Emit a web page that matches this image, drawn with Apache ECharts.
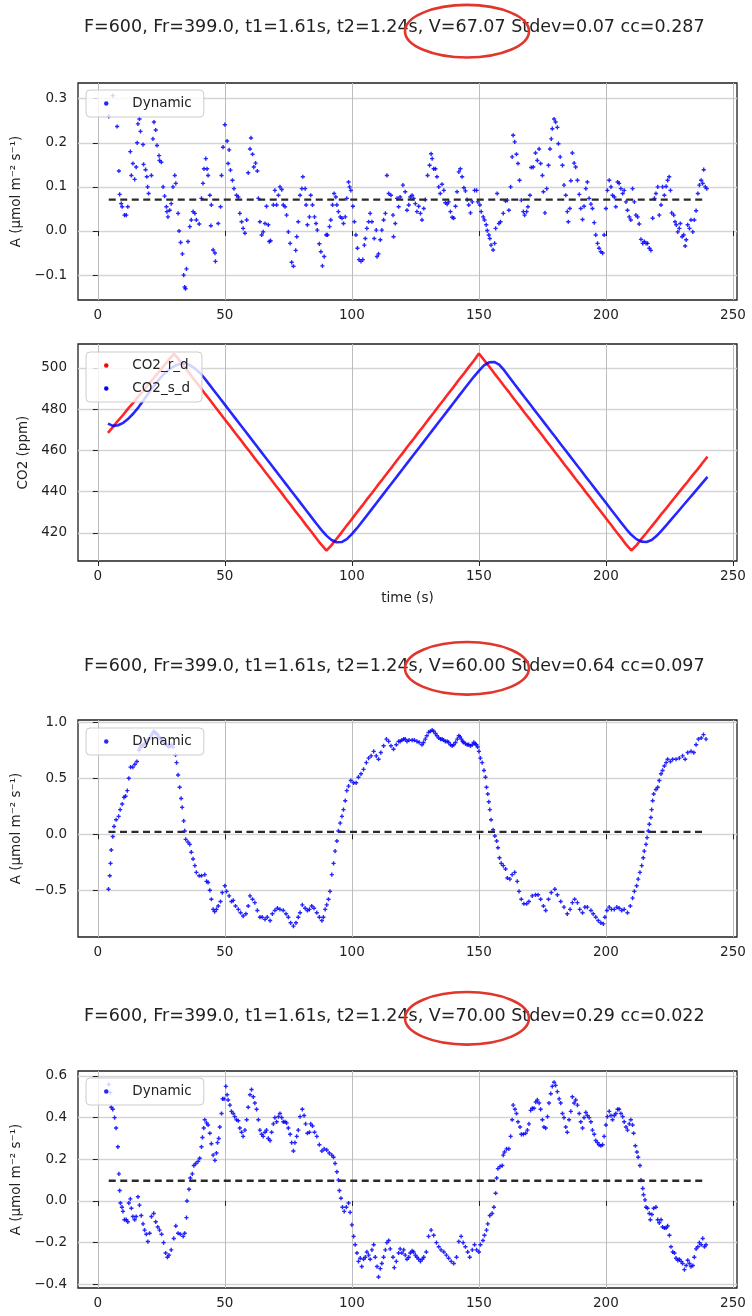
<!DOCTYPE html>
<html>
<head>
<meta charset="utf-8">
<title>Dynamic A and CO2</title>
<script src="https://cdn.jsdelivr.net/npm/echarts@6.0.0/dist/echarts.min.js"></script>
<style>
html,body{margin:0;padding:0;background:#ffffff;}
#chart{width:752px;height:1316px;}
</style>
</head>
<body>
<div id="chart"></div>
<script>
// ---------- texts ----------
const panelTitles = [
  'F=600, Fr=399.0, t1=1.61s, t2=1.24s, V=67.07 Stdev=0.07 cc=0.287',
  'F=600, Fr=399.0, t1=1.61s, t2=1.24s, V=60.00 Stdev=0.64 cc=0.097',
  'F=600, Fr=399.0, t1=1.61s, t2=1.24s, V=70.00 Stdev=0.29 cc=0.022'
];
const yNameA = 'A (\u00b5mol m\u207b\u00b2 s\u207b\u00b9)';
const yNameCO2 = 'CO2 (ppm)';
const xNameTime = 'time (s)';
const legendA = 'Dynamic';
const legendCO2 = ['CO2_r_d', 'CO2_s_d'];

// ---------- ticks ----------
const xTicks = [0, 50, 100, 150, 200, 250];
const y1Ticks = [-0.1, 0, 0.1, 0.2, 0.3];
const y2Ticks = [420, 440, 460, 480, 500];
const y3Ticks = [-0.5, 0, 0.5, 1];
const y4Ticks = [-0.4, -0.2, 0, 0.2, 0.4, 0.6];

// ---------- dashed mean levels (panels 1, 3, 4) ----------
const meanA = [0.071, 0.021, 0.097];

// ---------- panel 1: A (V=67.07) ----------
const a1Time = [
4.3,5.9,7.6,8.3,8.6,9.2,9.6,10.5,11.2,11.8,
12.8,13.2,13.8,14.5,15.1,15.5,15.8,16.4,16.8,17.8,
18.0,18.8,19.3,19.6,20.0,21.1,21.7,22.1,22.8,23.3,
24.1,24.3,25.0,25.7,26.3,27.0,27.2,27.6,28.3,28.9,
29.6,30.3,30.7,31.6,32.0,32.6,33.3,33.8,34.2,34.5,
34.9,35.5,36.2,36.8,37.5,38.2,38.8,39.9,40.8,41.4,
41.8,42.5,43.0,43.4,44.1,44.5,44.7,45.4,46.1,46.3,
47.4,48.3,48.7,49.3,50.0,50.9,51.3,51.7,52.2,53.0,
53.6,54.6,55.3,55.9,56.6,57.2,57.9,58.6,59.2,59.9,
60.3,60.9,61.4,62.1,62.8,63.2,63.8,64.5,65.1,65.8,
66.4,67.1,67.5,68.0,69.1,69.7,70.4,71.1,71.7,72.4,
73.0,73.7,74.3,75.0,75.7,76.3,77.0,77.9,78.3,78.9,
79.6,80.3,80.7,81.6,82.0,82.5,83.3,83.8,84.5,85.3,
85.9,86.4,87.2,87.8,88.4,89.1,89.9,90.4,91.2,91.7,
92.4,93.0,93.7,94.1,94.7,95.4,96.1,96.7,97.4,98.0,
98.7,99.1,99.6,100.4,101.0,101.6,102.2,102.8,103.6,104.3,
104.9,105.3,105.9,106.6,107.2,107.9,108.8,109.6,109.9,110.5,
111.2,111.8,112.5,113.2,113.8,114.5,115.4,116.2,116.4,117.1,
117.8,118.4,119.0,120.1,121.0,121.7,122.4,123.0,123.7,124.3,
125.0,125.6,126.3,127.0,127.6,128.3,128.9,129.8,130.6,131.2,
131.6,132.2,132.9,133.5,134.2,134.8,135.5,136.2,136.8,137.5,
138.1,138.8,139.5,140.1,140.8,141.4,142.1,142.7,143.4,144.1,
144.7,145.4,146.0,146.7,147.4,148.3,149.1,149.6,150.4,150.9,
151.7,152.2,152.9,153.3,153.9,154.3,154.8,155.6,156.2,156.6,
157.2,157.9,158.5,159.6,160.5,161.2,161.8,162.5,163.1,163.5,
164.1,164.8,165.4,166.0,166.7,167.5,168.0,168.8,169.3,170.1,
170.6,171.4,172.3,173.0,173.7,174.3,175.0,175.4,176.0,176.7,
177.4,178.0,178.5,178.9,179.6,180.2,180.9,181.3,182.0,182.9,
183.5,184.2,184.8,185.2,185.8,186.2,186.8,187.5,188.1,188.8,
189.5,190.1,190.8,191.4,192.1,192.7,193.4,194.1,194.7,195.4,
196.0,196.7,197.3,198.0,198.7,199.3,200.0,200.6,201.3,202.0,
202.6,203.3,203.9,204.6,205.2,205.9,206.6,207.2,207.9,208.5,
209.2,209.8,210.5,211.2,211.8,212.5,213.1,213.8,214.5,215.1,
215.8,216.4,217.1,217.7,218.4,219.1,219.7,220.4,221.0,221.7,
222.3,223.0,223.7,224.3,224.9,225.4,225.9,226.7,227.2,227.7,
228.3,228.9,229.3,230.0,230.6,231.2,231.6,232.2,232.9,233.5,
234.2,234.8,235.5,236.2,236.8,237.5,238.1,238.5,239.1,239.7
];
const a1Val = [
0.26,0.307,0.237,0.136,0.083,0.062,0.055,0.036,0.036,0.055,
0.18,0.126,0.153,0.117,0.145,0.2,0.243,0.254,0.226,0.196,
0.151,0.139,0.123,0.10,0.085,0.126,0.209,0.247,0.229,0.194,
0.171,0.16,0.156,0.10,0.079,0.055,0.044,0.032,0.047,0.062,
0.10,0.126,0.108,0.04,0.0,-0.026,-0.052,-0.10,-0.127,-0.131,
-0.086,-0.024,0.01,0.025,0.044,0.04,0.025,0.016,0.074,0.108,
0.141,0.164,0.141,0.126,0.081,0.012,0.059,-0.043,-0.05,-0.069,
0.017,0.055,0.126,0.19,0.241,0.204,0.153,0.184,0.138,0.115,
0.096,0.081,0.077,0.04,0.021,0.006,-0.005,0.025,0.132,0.186,
0.211,0.174,0.145,0.154,0.136,0.074,0.021,-0.009,-0.002,0.017,
0.056,0.014,-0.024,-0.022,0.059,0.092,0.059,0.081,0.10,0.094,
0.059,0.055,0.036,-0.002,-0.028,-0.071,-0.08,-0.044,-0.013,0.021,
0.081,0.096,0.123,0.096,0.059,0.014,0.032,0.081,0.059,0.032,
0.017,0.002,-0.029,-0.047,-0.079,-0.058,-0.009,-0.009,0.01,0.025,
0.059,0.085,0.077,0.059,0.044,0.032,0.029,0.017,0.032,0.074,
0.111,0.10,0.092,0.056,0.021,-0.009,-0.039,-0.065,-0.069,-0.065,
-0.032,-0.017,0.006,0.021,0.04,0.021,-0.017,0.002,-0.058,-0.052,
-0.02,0.002,0.025,0.04,0.126,0.085,0.081,0.036,-0.013,0.017,
0.074,0.055,0.077,0.104,0.089,0.047,0.059,0.077,0.081,0.074,
0.062,0.044,0.056,0.04,0.025,0.051,0.071,0.126,0.149,0.175,
0.164,0.141,0.141,0.123,0.10,0.085,0.106,0.092,0.064,0.061,
0.066,0.044,0.031,0.029,0.056,0.089,0.134,0.141,0.123,0.098,
0.091,0.071,0.059,0.041,0.066,0.092,0.092,0.066,0.059,0.044,
0.032,0.025,0.014,0.001,-0.009,-0.017,-0.032,-0.043,-0.028,0.006,
0.085,0.017,0.021,0.04,0.068,0.07,0.047,0.10,0.168,0.217,
0.202,0.174,0.153,0.115,0.07,0.044,0.036,0.044,0.055,0.081,
0.144,0.145,0.177,0.16,0.186,0.153,0.126,0.089,0.041,0.096,
0.149,0.186,0.209,0.232,0.254,0.247,0.235,0.198,0.168,0.149,
0.104,0.081,0.044,0.021,0.051,0.114,0.177,0.154,0.145,0.115,
0.083,0.051,0.026,0.056,0.096,0.111,0.074,0.061,0.051,0.019,
-0.009,-0.028,-0.039,-0.047,-0.05,-0.009,0.051,0.092,0.115,0.10,
0.081,0.077,0.055,0.111,0.108,0.096,0.085,0.092,0.066,0.047,
0.032,0.025,0.096,0.066,0.036,0.032,0.016,-0.019,-0.028,-0.024,
-0.028,-0.028,-0.039,-0.044,0.029,0.074,0.085,0.10,0.036,0.059,
0.10,0.081,0.101,0.115,0.123,0.092,0.041,0.036,0.021,0.014,
-0.002,0.006,0.017,-0.013,-0.009,-0.034,-0.02,0.014,0.006,0.025,
-0.002,0.025,0.046,0.085,0.104,0.115,0.108,0.139,0.10,0.096
];

// ---------- panel 2: CO2 ----------
const co2Time = [
4,6,8,10,12,14,16,18,20,22,24,26,28,30,
32,34,36,38,40,42,44,46,48,50,52,54,56,58,60,62,64,66,68,70,72,74,76,78,80,82,84,86,88,90,
92,94,96,98,100,102,104,106,108,110,112,114,116,118,120,122,124,126,128,130,132,134,136,138,140,142,144,146,148,150,
152,154,156,158,160,162,164,166,168,170,172,174,176,178,180,182,184,186,188,190,192,194,196,198,200,202,204,206,208,210,
212,214,216,218,220,222,224,226,228,230,232,234,236,238,240
];
const co2R = [
468.5,471.4,474.5,477.3,480.4,483.2,486.3,489.1,492.2,495.0,498.1,501.0,504.1,506.8,
503.9,500.6,497.5,494.2,491.1,487.8,484.7,481.4,478.3,475.0,471.9,468.6,465.5,462.2,459.1,455.8,452.7,449.4,446.3,443.0,439.9,436.6,433.5,430.2,427.1,423.8,420.7,417.4,414.3,411.4,
414.1,417.2,420.3,423.6,426.7,430.0,433.1,436.4,439.5,442.8,445.9,449.2,452.3,455.6,458.7,462.0,465.1,468.4,471.5,474.8,477.9,481.2,484.3,487.6,490.7,494.0,497.1,500.4,503.5,507.0,
503.9,500.8,497.5,494.4,491.1,488.0,484.7,481.6,478.3,475.2,471.9,468.8,465.5,462.4,459.1,456.0,452.7,449.6,446.3,443.2,439.9,436.8,433.5,430.4,427.1,424.0,420.7,417.6,414.3,411.5,
414.0,417.1,420.1,423.2,426.2,429.4,432.3,435.5,438.5,441.6,444.6,447.8,450.7,453.9,457.0
];
const co2S = [
473.0,471.9,472.2,473.4,475.4,477.9,480.9,484.3,487.8,491.2,494.3,497.0,499.1,500.8,
501.9,502.3,501.6,499.9,497.8,495.0,491.8,488.6,485.4,482.2,479.0,475.8,472.6,469.4,466.2,463.0,459.8,456.6,453.4,450.2,447.0,443.8,440.6,437.4,434.2,431.0,427.8,424.6,421.5,418.7,
416.6,415.5,415.6,417.0,419.4,422.3,425.4,428.6,431.8,435.0,438.2,441.4,444.6,447.8,451.0,454.2,457.4,460.6,463.8,467.0,470.2,473.4,476.6,479.8,483.0,486.2,489.4,492.6,495.7,498.6,
501.2,502.7,502.9,501.6,498.8,495.5,492.2,489.0,485.8,482.6,479.4,476.2,473.0,469.8,466.6,463.4,460.2,457.0,453.8,450.6,447.4,444.2,441.0,437.8,434.6,431.4,428.2,425.0,421.9,419.1,
417.0,415.8,415.6,416.6,418.6,421.2,424.0,426.9,429.8,432.7,435.6,438.5,441.4,444.3,447.2
];

// ---------- panel 3: A (V=60.00) ----------
const a3Time = [
4.2,4.7,5.0,5.3,5.9,6.4,7.2,8.2,8.8,9.6,
10.3,10.9,11.6,12.2,12.9,13.8,14.6,15.4,16.2,16.6,
17.0,17.5,18.0,18.5,19.0,19.5,20.0,20.5,21.0,21.5,
22.0,22.5,23.0,23.5,24.0,24.5,25.0,25.5,26.0,26.5,
27.0,27.5,28.0,28.5,29.0,29.6,30.6,31.0,31.6,32.2,
32.8,33.2,33.8,34.2,34.6,35.5,36.2,36.8,37.5,38.2,
38.8,39.9,40.8,42.1,42.8,43.4,44.1,44.7,45.4,46.0,
46.7,47.4,48.3,49.0,50.0,50.7,51.7,52.6,53.3,54.2,
55.3,56.2,57.2,58.3,59.2,59.9,60.9,61.8,62.8,63.8,
64.7,65.8,66.7,67.8,68.7,69.7,70.7,71.7,73.0,74.1,
75.0,75.9,77.0,78.0,78.9,79.6,80.5,81.6,82.5,83.3,
84.2,85.1,86.2,87.2,88.2,88.8,89.5,90.1,90.8,91.4,
92.1,92.8,93.4,94.1,94.7,95.4,96.1,96.7,97.4,98.0,
98.7,99.6,100.7,101.7,102.6,103.6,104.6,105.7,106.6,107.6,
108.6,109.6,110.5,111.4,112.5,113.6,114.5,115.4,116.4,117.5,
118.4,119.0,119.7,120.4,121.0,121.7,122.5,123.7,124.6,125.6,
126.5,127.6,128.2,128.9,129.5,130.2,130.9,131.6,132.2,132.9,
133.5,134.2,134.9,135.5,136.1,136.8,137.5,138.1,138.8,139.5,
140.1,140.8,141.5,142.1,142.6,143.1,143.6,144.0,144.7,145.4,
146.0,146.7,147.4,148.0,148.5,149.0,149.5,150.0,150.6,151.3,
152.0,152.6,153.0,153.5,153.9,154.3,154.8,155.6,156.3,157.0,
157.5,158.1,158.8,159.6,160.5,161.2,162.2,163.1,164.1,165.1,
165.8,166.7,167.7,168.8,169.7,171.0,172.3,173.3,174.3,175.4,
176.3,177.4,178.5,179.9,180.9,182.2,183.5,184.8,185.9,186.8,
187.7,188.8,189.7,190.8,191.7,192.7,194.1,195.0,196.0,197.0,
198.0,199.0,199.6,200.4,201.3,202.2,203.3,204.3,205.2,206.2,
207.2,208.5,209.6,210.5,211.2,212.1,212.7,213.4,214.1,214.7,
215.1,215.8,216.2,216.7,217.1,217.7,218.0,218.4,218.8,219.7,
220.4,221.0,221.7,222.3,223.0,223.7,224.3,225.4,226.3,227.6,
228.9,230.2,231.2,232.2,233.5,234.6,235.5,236.4,237.5,238.4,
239.4
];
const a3Val = [
-0.49,-0.37,-0.26,-0.14,-0.02,0.07,0.13,0.16,0.22,0.27,
0.33,0.34,0.39,0.50,0.60,0.60,0.625,0.65,0.75,0.77,
0.79,0.79,0.80,0.81,0.83,0.84,0.85,0.86,0.88,0.90,
0.92,0.91,0.90,0.89,0.87,0.86,0.85,0.84,0.82,0.81,
0.80,0.79,0.78,0.79,0.80,0.78,0.71,0.64,0.53,0.42,
0.32,0.24,0.12,0.03,-0.045,-0.07,-0.09,-0.16,-0.22,-0.28,
-0.34,-0.37,-0.37,-0.36,-0.42,-0.43,-0.50,-0.58,-0.67,-0.69,
-0.67,-0.64,-0.60,-0.52,-0.46,-0.51,-0.55,-0.60,-0.59,-0.64,
-0.67,-0.70,-0.73,-0.71,-0.64,-0.55,-0.58,-0.61,-0.68,-0.74,
-0.74,-0.76,-0.74,-0.77,-0.71,-0.68,-0.66,-0.67,-0.68,-0.71,
-0.74,-0.79,-0.82,-0.79,-0.74,-0.70,-0.63,-0.66,-0.68,-0.67,
-0.64,-0.66,-0.70,-0.74,-0.77,-0.74,-0.67,-0.63,-0.58,-0.51,
-0.36,-0.26,-0.15,-0.06,0.03,0.10,0.16,0.22,0.30,0.39,
0.43,0.48,0.46,0.46,0.51,0.54,0.58,0.64,0.68,0.70,
0.74,0.70,0.67,0.73,0.79,0.85,0.83,0.79,0.76,0.80,
0.83,0.83,0.84,0.85,0.85,0.83,0.84,0.84,0.84,0.83,
0.82,0.80,0.82,0.85,0.88,0.91,0.92,0.93,0.92,0.90,
0.88,0.86,0.85,0.85,0.84,0.83,0.83,0.82,0.80,0.79,
0.80,0.82,0.85,0.88,0.87,0.85,0.83,0.82,0.81,0.80,
0.80,0.79,0.80,0.82,0.81,0.80,0.78,0.74,0.68,0.64,
0.57,0.51,0.42,0.36,0.29,0.22,0.13,0.04,-0.015,-0.06,
-0.12,-0.21,-0.26,-0.28,-0.31,-0.39,-0.40,-0.36,-0.34,-0.42,
-0.51,-0.58,-0.62,-0.62,-0.60,-0.55,-0.54,-0.54,-0.58,-0.64,
-0.68,-0.58,-0.52,-0.49,-0.54,-0.60,-0.65,-0.71,-0.67,-0.61,
-0.58,-0.61,-0.67,-0.70,-0.65,-0.65,-0.68,-0.71,-0.74,-0.77,
-0.79,-0.80,-0.74,-0.68,-0.65,-0.67,-0.67,-0.65,-0.66,-0.68,
-0.67,-0.70,-0.64,-0.57,-0.51,-0.46,-0.40,-0.34,-0.28,-0.21,
-0.15,-0.09,-0.03,0.03,0.09,0.15,0.22,0.30,0.36,0.40,
0.42,0.48,0.54,0.57,0.61,0.64,0.67,0.65,0.67,0.67,
0.68,0.70,0.67,0.73,0.74,0.73,0.80,0.85,0.86,0.89,
0.85
];

// ---------- panel 4: A (V=70.00) ----------
const a4Time = [
4.3,4.9,5.3,5.9,6.6,7.2,7.9,8.3,8.6,8.9,
9.5,9.9,10.5,11.2,11.8,12.2,12.8,13.2,13.8,14.5,
15.1,15.8,16.4,17.1,17.8,18.4,19.1,19.7,20.4,21.1,
22.0,22.8,23.6,24.3,25.1,25.9,26.7,27.4,28.0,28.9,
29.9,30.7,31.6,32.5,33.6,34.2,34.9,35.1,35.9,36.4,
37.2,37.8,38.6,39.5,40.1,40.8,41.2,41.7,42.1,42.8,
43.4,44.1,44.7,45.4,46.1,46.7,47.1,47.6,48.0,48.7,
49.1,49.7,50.4,50.9,51.3,52.0,52.6,53.3,53.9,54.6,
55.3,55.9,56.6,57.2,57.9,58.6,59.2,59.9,60.5,61.2,
61.8,62.5,63.2,63.8,64.5,65.1,65.8,66.4,67.1,67.8,
68.4,69.1,69.7,70.4,71.1,71.7,72.4,73.0,73.7,74.3,
75.0,75.7,76.3,77.0,77.6,78.3,78.9,79.6,80.5,81.2,
81.8,82.5,83.3,83.8,84.5,85.3,86.2,87.2,88.2,89.1,
90.1,91.1,92.1,92.8,93.4,94.1,94.7,95.1,95.7,96.3,
97.0,97.8,98.7,99.3,100.0,100.7,101.3,102.0,102.6,103.3,
103.9,104.6,105.3,105.9,106.6,107.2,107.9,108.6,109.2,109.9,
110.5,111.2,111.8,112.5,113.2,113.8,114.5,115.1,116.2,116.7,
117.5,118.4,119.0,120.4,121.7,123.0,124.3,125.6,127.0,128.3,
129.3,130.2,131.2,132.2,133.3,134.2,135.1,136.2,137.2,138.1,
139.1,140.1,141.2,142.1,143.0,143.8,144.7,145.6,146.4,147.4,
148.3,149.1,150.0,150.6,151.6,152.2,153.0,153.5,154.3,155.2,
155.9,156.6,157.0,157.5,158.3,159.2,159.6,160.1,160.9,161.8,
162.5,163.1,163.5,164.2,164.8,165.4,166.2,166.7,167.5,168.4,
169.1,169.7,170.4,171.0,171.7,172.4,173.0,173.7,174.3,175.0,
175.6,176.3,177.0,177.6,178.3,178.9,179.6,180.2,180.9,181.6,
182.2,182.9,183.5,184.2,184.8,185.5,186.2,186.8,187.5,188.1,
188.8,189.5,190.1,190.8,191.4,192.1,192.7,193.4,194.1,194.7,
195.4,196.0,196.7,197.3,198.0,198.7,199.3,200.0,200.6,201.3,
202.0,202.6,203.3,203.9,204.6,205.2,205.9,206.6,207.2,207.9,
208.5,209.2,209.8,210.5,210.9,211.6,212.2,212.7,213.4,213.8,
214.5,214.8,215.4,215.8,216.4,217.1,217.5,218.1,218.8,219.7,
220.4,221.0,221.7,222.3,223.0,223.7,224.3,225.0,225.6,226.3,
227.0,227.6,228.3,228.9,229.6,230.2,230.9,231.6,232.2,232.9,
233.5,234.2,234.8,235.5,236.2,236.8,237.5,238.1,238.8,239.4,
119.7,121.0,122.4,123.7,125.0,126.3,127.7
];
const a4Val = [
0.56,0.52,0.45,0.44,0.40,0.35,0.26,0.13,0.05,-0.01,
-0.03,-0.05,-0.09,-0.09,-0.10,-0.01,0.01,-0.035,-0.075,-0.09,
-0.075,0.02,-0.02,-0.07,-0.11,-0.14,-0.16,-0.195,-0.155,-0.075,
-0.06,-0.10,-0.125,-0.14,-0.16,-0.20,-0.25,-0.27,-0.26,-0.235,
-0.18,-0.12,-0.155,-0.16,-0.17,-0.155,-0.08,0.0,0.056,0.11,
0.13,0.17,0.18,0.19,0.205,0.26,0.305,0.35,0.39,0.375,
0.365,0.325,0.275,0.22,0.195,0.23,0.28,0.30,0.355,0.42,
0.49,0.49,0.55,0.51,0.485,0.46,0.43,0.42,0.405,0.39,
0.385,0.35,0.33,0.31,0.34,0.39,0.45,0.51,0.535,0.50,
0.47,0.44,0.39,0.34,0.32,0.31,0.33,0.34,0.30,0.29,
0.33,0.37,0.40,0.38,0.405,0.42,0.40,0.38,0.38,0.375,
0.35,0.32,0.28,0.24,0.28,0.31,0.34,0.405,0.44,0.41,
0.37,0.325,0.33,0.37,0.36,0.33,0.31,0.27,0.24,0.25,
0.245,0.23,0.22,0.21,0.18,0.14,0.10,0.05,0.013,-0.03,
-0.05,-0.03,-0.01,-0.055,-0.115,-0.17,-0.21,-0.25,-0.29,-0.275,
-0.315,-0.28,-0.27,-0.245,-0.26,-0.28,-0.235,-0.21,-0.27,-0.315,
-0.365,-0.325,-0.30,-0.27,-0.235,-0.20,-0.19,-0.23,-0.27,-0.32,
-0.29,-0.25,-0.23,-0.235,-0.28,-0.25,-0.245,-0.27,-0.29,-0.27,
-0.245,-0.17,-0.14,-0.165,-0.20,-0.22,-0.235,-0.245,-0.26,-0.275,
-0.29,-0.30,-0.27,-0.195,-0.17,-0.20,-0.22,-0.245,-0.27,-0.235,
-0.21,-0.235,-0.245,-0.21,-0.19,-0.165,-0.14,-0.11,-0.07,-0.06,
-0.03,0.037,0.11,0.155,0.165,0.17,0.22,0.235,0.25,0.25,
0.31,0.39,0.46,0.44,0.42,0.38,0.355,0.32,0.32,0.325,
0.34,0.37,0.435,0.445,0.445,0.475,0.485,0.47,0.44,0.39,
0.355,0.35,0.405,0.47,0.515,0.55,0.57,0.555,0.525,0.49,
0.47,0.42,0.40,0.355,0.33,0.39,0.43,0.50,0.47,0.485,
0.46,0.42,0.38,0.35,0.40,0.425,0.41,0.40,0.38,0.34,
0.32,0.29,0.28,0.27,0.265,0.27,0.31,0.365,0.405,0.43,
0.41,0.39,0.41,0.42,0.44,0.44,0.42,0.405,0.38,0.355,
0.34,0.37,0.39,0.365,0.325,0.265,0.235,0.21,0.17,0.10,
0.06,0.03,0.005,-0.03,-0.035,-0.06,-0.09,-0.065,-0.035,-0.03,
-0.09,-0.105,-0.09,-0.125,-0.13,-0.13,-0.12,-0.165,-0.22,-0.245,
-0.25,-0.275,-0.285,-0.28,-0.29,-0.30,-0.33,-0.31,-0.285,-0.30,
-0.315,-0.31,-0.27,-0.23,-0.22,-0.20,-0.21,-0.18,-0.22,-0.21,
-0.25,-0.26,-0.27,-0.24,-0.26,-0.28,-0.28
];

// ---------- rendering ----------
const FONT = 'DejaVu Sans';
const TXT = '#222222';
const PLUS = 'path://M1,0H2V1H3V2H2V3H1V2H0V1H1Z';
const fmtA = v => (v < -1e-9 ? '\u2212' : '') + Math.abs(v).toFixed(1);
const fmtInt = v => String(Math.round(v));
const pairs = (ts, vs) => ts.map((t, i) => [t, vs[i]]);

const gridTops = [83, 344, 720, 1071];
const xRange = [-7.8, 251.6];
const yRanges = [[-0.1565, 0.3356], [406.4, 511.6], [-0.917, 1.0205], [-0.418, 0.624]];

function xAxisFor(idx, name) {
  return {
    type: 'value', gridIndex: idx, min: xRange[0], max: xRange[1],
    axisLine: { show: false },
    axisTick: { show: true, length: 5, lineStyle: { color: TXT, width: 1 }, customValues: xTicks },
    axisLabel: { customValues: xTicks, color: TXT, fontFamily: FONT, fontSize: 13.5, margin: 8, formatter: fmtInt },
    splitLine: { show: true, lineStyle: { color: '#bdbdbd', width: 1 } },
    name: name || '', nameLocation: 'middle', nameGap: 30,
    nameTextStyle: { fontFamily: FONT, fontSize: 13.5, color: TXT }
  };
}
function yAxisFor(idx, ticks, fmt, name, gap) {
  return {
    type: 'value', gridIndex: idx, min: yRanges[idx][0], max: yRanges[idx][1],
    axisLine: { show: false },
    axisTick: { show: true, length: 5, lineStyle: { color: TXT, width: 1 }, customValues: ticks },
    axisLabel: { customValues: ticks, formatter: fmt, color: TXT, fontFamily: FONT, fontSize: 13.5, margin: 11 },
    splitLine: { show: true, lineStyle: { color: '#d5d5d5', width: 1.4 } },
    name: name, nameLocation: 'middle', nameGap: gap,
    nameTextStyle: { fontFamily: FONT, fontSize: 13.5, color: TXT }
  };
}
function legendAt(top, names) {
  return {
    show: true, orient: 'vertical', left: 86, top: top, selectedMode: false,
    data: names.map(n => ({ name: n, icon: 'circle' })),
    itemWidth: 42, itemHeight: 4.5, itemGap: 8, symbolKeepAspect: true,
    padding: [6, 12, 6, 18],
    backgroundColor: 'rgba(255,255,255,0.8)', borderColor: '#cccccc', borderWidth: 1, borderRadius: 4,
    textStyle: { fontFamily: FONT, fontSize: 13.5, color: TXT, lineHeight: 15 }
  };
}
function scatterA(idx, ts, vs) {
  return {
    type: 'scatter', name: legendA, xAxisIndex: idx, yAxisIndex: idx,
    data: pairs(ts, vs), symbol: PLUS, symbolSize: 4.2,
    itemStyle: { color: '#0000ff', opacity: 0.85 }, silent: true, z: 3
  };
}
function meanLine(idx, ts, level, nm) {
  return {
    type: 'line', name: nm, xAxisIndex: idx, yAxisIndex: idx,
    data: [[Math.min(...ts), level], [Math.max(...ts), level]],
    showSymbol: false, symbol: 'none',
    lineStyle: { color: '#2a2a2a', width: 2.3, type: [7, 4.5] }, silent: true, z: 4
  };
}
function co2Line(nm, vs, color) {
  return {
    type: 'line', name: nm, xAxisIndex: 1, yAxisIndex: 1,
    data: pairs(co2Time, vs), showSymbol: false, symbol: 'circle',
    lineStyle: { color: color, width: 2.6, opacity: 0.85 }, itemStyle: { color: color },
    silent: true, z: 3
  };
}

const option = {
  animation: false,
  backgroundColor: '#ffffff',
  title: panelTitles.map((t, i) => ({
    text: t, left: 84, top: [17, 656, 1006][i], padding: 0,
    textStyle: { fontFamily: FONT, fontSize: 17.5, fontWeight: 'normal', color: TXT, lineHeight: 20 }
  })),
  grid: gridTops.map(t => ({
    left: 78, width: 659, top: t, height: 217, show: true,
    borderColor: '#1f1f1f', borderWidth: 1.3, backgroundColor: 'transparent',
    containLabel: false, outerBoundsMode: 'none'
  })),
  xAxis: [xAxisFor(0), xAxisFor(1, xNameTime), xAxisFor(2), xAxisFor(3)],
  yAxis: [
    yAxisFor(0, y1Ticks, fmtA, yNameA, 50),
    yAxisFor(1, y2Ticks, fmtInt, yNameCO2, 40),
    yAxisFor(2, y3Ticks, fmtA, yNameA, 50),
    yAxisFor(3, y4Ticks, fmtA, yNameA, 50)
  ],
  legend: [
    legendAt(90, [legendA]),
    legendAt(352, legendCO2),
    legendAt(728, [legendA]),
    legendAt(1078, [legendA])
  ],
  graphic: [31.2, 668.3, 1018.3].map(cy => ({
    type: 'ellipse', shape: { cx: 467, cy: cy, rx: 62, ry: 26.3 },
    style: { fill: 'transparent', stroke: '#e0362c', lineWidth: 2.6 }, z: 100, silent: true
  })),
  series: [
    scatterA(0, a1Time, a1Val),
    meanLine(0, a1Time, meanA[0], 'mean1'),
    co2Line(legendCO2[0], co2R, '#ff0000'),
    co2Line(legendCO2[1], co2S, '#0000ff'),
    scatterA(2, a3Time, a3Val),
    meanLine(2, a3Time, meanA[1], 'mean3'),
    scatterA(3, a4Time, a4Val),
    meanLine(3, a4Time, meanA[2], 'mean4')
  ]
};

const chart = echarts.init(document.getElementById('chart'), null, { renderer: 'canvas', width: 752, height: 1316 });
chart.setOption(option);
</script>
</body>
</html>
